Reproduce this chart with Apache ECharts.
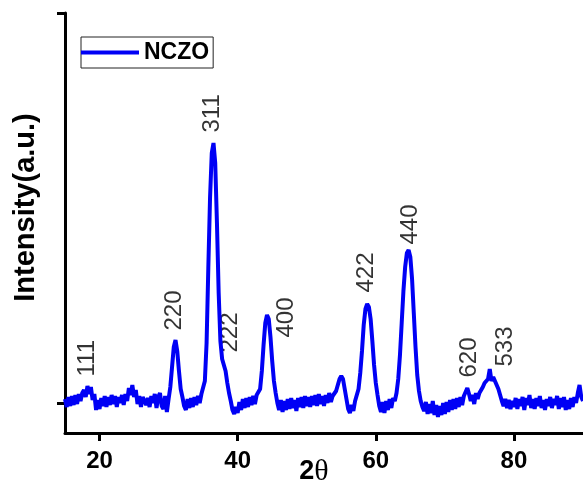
<!DOCTYPE html>
<html>
<head>
<meta charset="utf-8">
<script src="https://cdn.jsdelivr.net/npm/echarts@6/dist/echarts.min.js"></script>
<style>
html, body { margin: 0; padding: 0; background: #fff; }
#xrd-chart { width: 583px; height: 486px; }
</style>
</head>
<body>
<div id="xrd-chart"></div>
<script>
// scan: 15 -> 90 deg, one reading every 0.25 deg
var angleStart = 15;
var angleStep = 0.25;
var intensity = [
    4, -4, 6, -3, 7, -2, 8, -1, 9, 2, 10, 13, 6, 17, 9, 16, 3, 9, -7, 3,
    -6, 5, -3, 7, -4, 6, -2, 8, -1, 7, -4, 6, 0, 8, -2, 9, 2, 15, 8, 18,
    6, 13, -1, 7, -4, 6, 8, -2, 5, -4, 7, 0, 9, -5, 6, 10, -3, -6, 7, -9,
    4, 16, 36, 56, 63, 52, 32, 14, 6, -3, -7, 4, -5, 5, -4, 6, -2, 7, 0, 9,
    8, 22, 60, 135, 205, 250, 260, 240, 180, 110, 62, 44, 38, 32, 20, 10, 2, -7, -11, -4,
    -10, 1, -7, 4, -5, 5, -4, 6, -2, 7, -1, 8, 6, 14, 32, 58, 80, 88, 84, 66,
    42, 22, 10, 0, -7, 3, -9, 2, -7, 4, -6, 5, -5, 3, -8, 5, -4, 6, -5, 7,
    -3, 6, -4, 7, -2, 8, -3, 9, -1, 7, -3, 8, 0, 10, 1, 7, 8, 12, 18, 24,
    27, 24, 14, 4, -6, -10, -2, -8, 2, 4, 14, 30, 52, 78, 94, 99, 96, 84, 62, 38,
    20, 8, -3, -9, 1, -10, 2, -7, 4, -5, 5, 2, 10, 24, 48, 80, 112, 136, 150, 153,
    146, 124, 90, 56, 28, 12, 2, -4, -8, 1, -11, -1, -10, 2, -12, -2, -14, -3, -12, 0,
    -11, 1, -9, 3, -7, 4, -6, 5, -4, 6, -2, 7, 8, 15, 9, 2, 8, -1, 10, 4,
    10, 12, 16, 20, 18, 24, 34, 22, 26, 24, 18, 14, 8, 2, -3, 4, -5, 3, -6, 2,
    -4, 5, -6, 4, -3, 6, -7, 5, -2, 8, -5, 4, -6, 5, -3, 7, -5, 3, -7, 4,
    -3, 6, -5, 4, -2, 7, -6, 5, -4, 6, -7, 3, -6, 5, -4, 6, 0, 10, 18, 6,
    2
];

var xTicks = [20, 40, 60, 80];
var yTicks = [0, 390];

// hkl labels, placed at (2theta, intensity) just above each reflection
var peakNames = ['111', '220', '311', '222', '400', '422', '440', '620', '533'];
var peakAngles = [18.2, 30.9, 36.4, 39.0, 47.0, 58.6, 65.0, 73.6, 78.8];
var peakHeights = [26, 72, 270, 50, 65, 110, 158, 25, 36];

(function() {
    drawChart();
})();

function drawChart() {
    var chart = echarts.init(document.getElementById('xrd-chart'));

    var lineData = [];
    for (var i = 0; i < intensity.length; i++) {
        lineData.push([angleStart + i * angleStep, intensity[i]]);
    }

    var peakData = [];
    for (var j = 0; j < peakNames.length; j++) {
        peakData.push({ name: peakNames[j], value: [peakAngles[j], peakHeights[j]] });
    }

    var blue = '#0000f5';
    var font = 'Liberation Sans';

    var option = {
        animation: false,
        backgroundColor: '#fff',
        grid: {
            left: 65,
            right: 0,
            top: 13,
            bottom: 53,
            outerBoundsMode: 'none',
            containLabel: false
        },
        legend: {
            data: ['NCZO'],
            left: 81,
            top: 37,
            icon: 'rect',
            itemWidth: 58,
            itemHeight: 4,
            padding: [4, 4, 4, 0],
            borderColor: '#222',
            borderWidth: 1,
            textStyle: {
                fontFamily: font,
                fontWeight: 'bold',
                fontSize: 23,
                color: '#000'
            }
        },
        xAxis: {
            type: 'value',
            min: 15,
            max: 90,
            name: '{n|2}{t|θ}',
            nameLocation: 'middle',
            nameGap: 24,
            nameMoveOverlap: false,
            nameTextStyle: {
                padding: [0, 20, 0, 0],
                rich: {
                    n: { fontFamily: font, fontWeight: 'bold', fontSize: 27, color: '#000' },
                    t: { fontFamily: 'Liberation Serif', fontSize: 30, color: '#000' }
                }
            },
            axisLine: {
                onZero: false,
                lineStyle: { color: '#000', width: 3 }
            },
            axisTick: {
                customValues: xTicks,
                length: 8,
                lineStyle: { color: '#000', width: 3 }
            },
            axisLabel: {
                customValues: xTicks,
                margin: 16,
                fontFamily: font,
                fontWeight: 'bold',
                fontSize: 24,
                color: '#000'
            },
            splitLine: { show: false }
        },
        yAxis: {
            type: 'value',
            min: -30,
            max: 390,
            name: 'Intensity(a.u.)',
            nameLocation: 'middle',
            nameGap: 25,
            nameRotate: 90,
            nameMoveOverlap: false,
            nameTextStyle: {
                fontFamily: font,
                fontWeight: 'bold',
                fontSize: 29,
                color: '#000',
                padding: [0, 0, 0, 31]
            },
            axisLine: {
                show: true,
                onZero: false,
                lineStyle: { color: '#000', width: 3 }
            },
            axisTick: {
                show: true,
                customValues: yTicks,
                length: 8,
                lineStyle: { color: '#000', width: 3 }
            },
            axisLabel: { show: false },
            splitLine: { show: false }
        },
        series: [
            {
                name: 'NCZO',
                type: 'line',
                data: lineData,
                symbol: 'none',
                lineStyle: { color: blue, width: 4 },
                itemStyle: { color: blue }
            },
            {
                name: 'peaks',
                type: 'scatter',
                data: peakData,
                symbolSize: 1,
                silent: true,
                itemStyle: { color: 'rgba(0,0,0,0)' },
                label: {
                    show: true,
                    formatter: '{b}',
                    position: 'top',
                    distance: 0,
                    rotate: 90,
                    align: 'left',
                    verticalAlign: 'middle',
                    fontFamily: font,
                    fontSize: 24,
                    color: '#000'
                }
            }
        ]
    };

    chart.setOption(option);
}
</script>
</body>
</html>
